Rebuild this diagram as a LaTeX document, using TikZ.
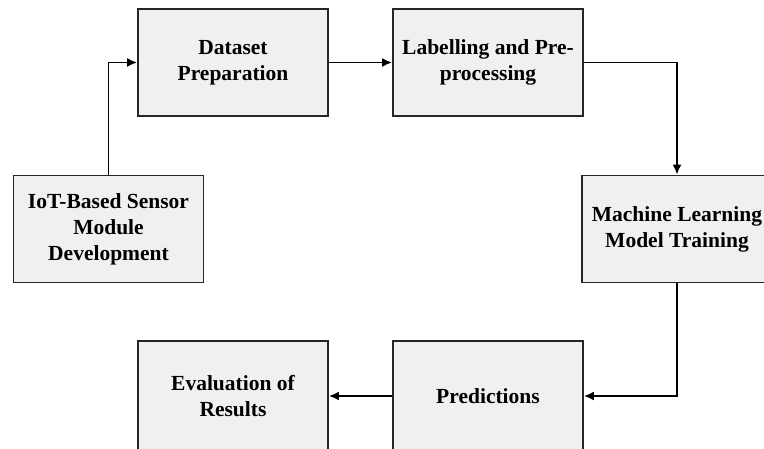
\documentclass[tikz,border=0pt]{standalone}
\usepackage{fontspec}
\setmainfont{Liberation Serif}
\usetikzlibrary{arrows.meta}

\tikzset{
  stage/.style={draw=black!85, line width=1.8pt, fill=black!6,
    minimum width=190pt, minimum height=107pt, inner sep=0pt,
    align=center, font=\bfseries\fontsize{21.5}{26}\selectfont},
  flow/.style={line width=1.8pt, -{Latex[length=10pt,width=9pt]}}
}

\begin{document}
\begin{tikzpicture}[x=1pt,y=-1pt]
 \clip (0,0) rectangle (764,448);
 \node[stage] (iot)   at (108.5,229) {IoT-Based Sensor\\Module\\Development};
 \node[stage] (data)  at (233,62.5)  {Dataset\\Preparation};
 \node[stage] (label) at (488,62.5)  {Labelling and Pre-\\processing};
 \node[stage] (ml)    at (677,229)   {Machine Learning\\Model Training};
 \node[stage, minimum height=110pt] (pred) at (488,396) {Predictions};
 \node[stage, minimum height=110pt] (eval) at (233,396) {Evaluation of\\Results};

\draw[flow] (iot.north) |- (data.west);
\draw[flow] (data.east) -- (label.west);
\draw[flow] (label.east) -| (ml.north);
\draw[flow] (ml.south) |- (pred.east);
\draw[flow] (pred.west) -- (eval.east);
\end{tikzpicture}
\end{document}
